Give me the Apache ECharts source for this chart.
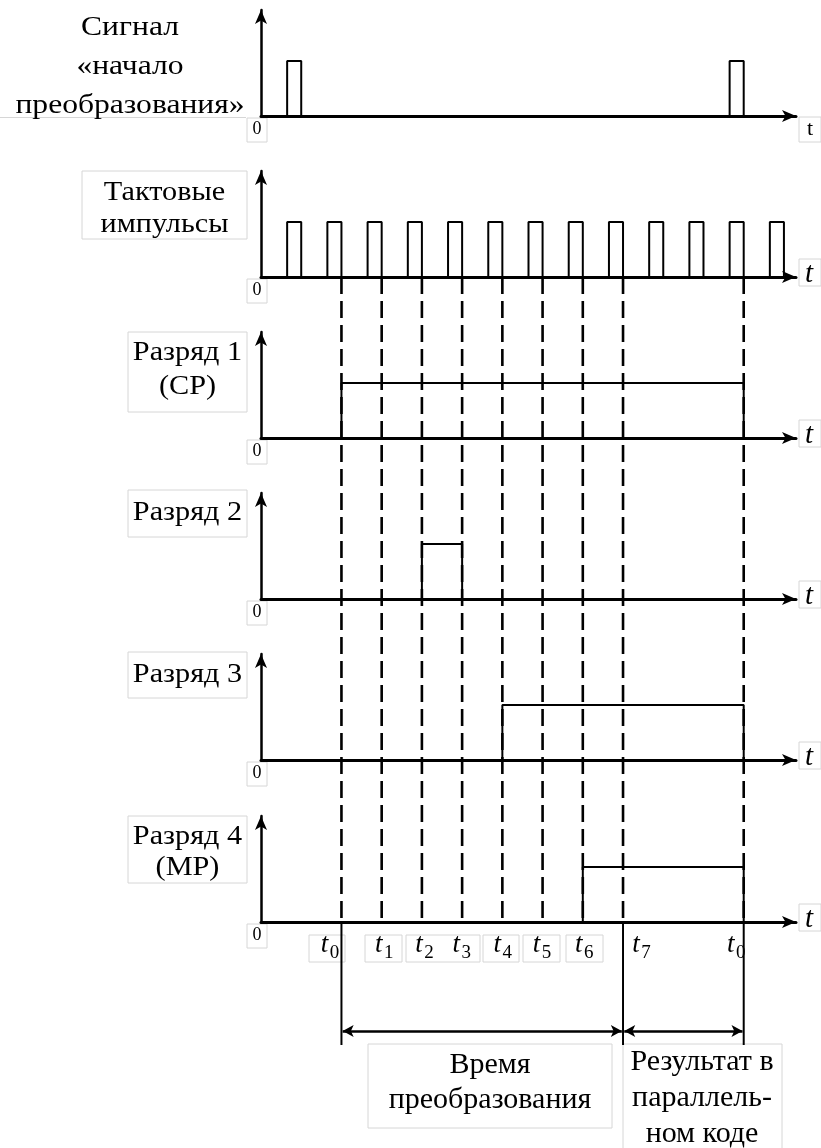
<!DOCTYPE html>
<html><head><meta charset="utf-8">
<script src="https://cdn.jsdelivr.net/npm/echarts@6/dist/echarts.min.js"></script>
<style>html,body{margin:0;padding:0;background:#fff}#c{width:821px;height:1148px}</style>
</head><body><div id="c"></div>
<script>
// ---- data ----
const panelLabels = ['Сигнал\n«начало\nпреобразования»', 'Тактовые\nимпульсы', 'Разряд 1\n(CP)', 'Разряд 2', 'Разряд 3', 'Разряд 4\n(MP)'];
const startSignal = [[0.65, 1.0], [11.65, 12.0]];
const clockPulses = [[0.65, 1], [1.65, 2], [2.65, 3], [3.65, 4], [4.65, 5], [5.65, 6], [6.65, 7], [7.65, 8], [8.65, 9], [9.65, 10], [10.65, 11], [11.65, 12], [12.65, 13]];
const bit1 = [[2, 12]];
const bit2 = [[4, 5]];
const bit3 = [[6, 12]];
const bit4 = [[8, 12]];
const markTimes = [2, 3, 4, 5, 6, 7, 8, 9, 12];
const markNames = ['0', '1', '2', '3', '4', '5', '6', '7', '0'];
const boundaryTimes = [2, 9, 12];
const spans = [[2, 9], [9, 12]];
const spanLabels = ['Время\nпреобразования', 'Результат в\nпараллель-\nном коде'];
const tMax = 13.3, yMax = 1.93;

// ---- layout ----
const FAM = "'Liberation Serif', 'Times New Roman', serif";
const axisY = [116, 277, 438, 599, 760, 922];
const panelH = 106, gLeft = 261, gRight = 25;
const waves = [startSignal, clockPulses, bit1, bit2, bit3, bit4];

const grids = [], xAxes = [], yAxes = [], series = [];
axisY.forEach((ay, i) => {
  grids.push({left: gLeft, right: gRight, top: ay - panelH, height: panelH});
  xAxes.push({gridIndex: i, type: 'value', min: 0, max: tMax,
    axisLine: {show: true, symbol: ['none', 'arrow'], symbolSize: [9, 14], lineStyle: {color: '#000', width: 3}},
    axisTick: {show: false}, axisLabel: {show: false}, splitLine: {show: false}});
  yAxes.push({gridIndex: i, type: 'value', min: 0, max: yMax,
    axisLine: {show: true, onZero: false, symbol: ['none', 'arrow'], symbolSize: [9, 14], lineStyle: {color: '#000', width: 2.5}},
    axisTick: {show: false}, axisLabel: {show: false}, splitLine: {show: false}});
  waves[i].forEach(([a, b]) => {
    series.push({type: 'line', xAxisIndex: i, yAxisIndex: i, data: [[a, 0], [a, 1], [b, 1], [b, 0]],
      symbol: 'none', clip: false, silent: true, lineStyle: {color: '#000', width: 2}});
  });
});
// dashed overlay grid (6)
grids.push({left: gLeft, right: gRight, top: axisY[1], height: axisY[5] - axisY[1]});
xAxes.push({gridIndex: 6, type: 'value', min: 0, max: tMax, show: false});
yAxes.push({gridIndex: 6, type: 'value', min: 0, max: 1, show: false});
markTimes.forEach(t => {
  series.push({type: 'line', xAxisIndex: 6, yAxisIndex: 6, data: [[t, 1], [t, 0]], symbol: 'none', clip: false, silent: true,
    lineStyle: {color: '#000', width: 2.6, type: [17, 7]}});
});
// bottom solid lines grid (7)
grids.push({left: gLeft, right: gRight, top: axisY[5], height: 123});
xAxes.push({gridIndex: 7, type: 'value', min: 0, max: tMax, show: false});
yAxes.push({gridIndex: 7, type: 'value', min: 0, max: 1, show: false});
boundaryTimes.forEach(t => {
  series.push({type: 'line', xAxisIndex: 7, yAxisIndex: 7, data: [[t, 1], [t, 0]], symbol: 'none', clip: false, silent: true,
    lineStyle: {color: '#000', width: 2}});
});
// arrows grid (8)
grids.push({left: gLeft, right: gRight, top: 1026, height: 10});
xAxes.push({gridIndex: 8, type: 'value', min: 0, max: tMax, show: false});
yAxes.push({gridIndex: 8, type: 'value', min: 0, max: 1, show: false});
series.push({type: 'line', xAxisIndex: 8, yAxisIndex: 8, data: [], symbol: 'none', silent: true,
  markLine: {silent: true, symbol: ['arrow', 'arrow'], symbolSize: [9, 11], label: {show: false},
    lineStyle: {color: '#000', width: 2.5, type: 'solid'}, emphasis: {disabled: true},
    data: spans.map(([a, b]) => [{coord: [a + 0.03, 0.5]}, {coord: [b - 0.03, 0.5]}])}});

const chart = echarts.init(document.getElementById('c'), null, {renderer: 'canvas'});
chart.setOption({animation: false, backgroundColor: '#fff', grid: grids, xAxis: xAxes, yAxis: yAxes, series: series});

// ---- text & boxes ----
const G = [];
const box = (x, y, w, h) => G.push({type: 'rect', shape: {x, y, width: w, height: h}, style: {fill: 'none', stroke: '#d6d6d6', lineWidth: 1}, silent: true});
const txt = (text, x, y, size, extra, sx) => G.push({type: 'text', x, y, scaleX: sx || 1, silent: true,
  style: Object.assign({text, fontSize: size, fontFamily: FAM, fill: '#000', align: 'center', verticalAlign: 'middle'}, extra || {})});

const SX = 1.12;
// panel labels
G.push({type: 'line', shape: {x1: 0, y1: 117.5, x2: 246, y2: 117.5}, style: {stroke: '#d6d6d6', lineWidth: 1}, silent: true});
txt(panelLabels[0], 130, 67, 27, {lineHeight: 39}, 1.17);
box(82, 171, 165, 68); txt(panelLabels[1], 164.5, 209, 27, {lineHeight: 32}, SX);
box(128, 332, 119, 80); txt(panelLabels[2], 187.5, 370, 27, {lineHeight: 34}, SX);
box(128, 490, 119, 47); txt(panelLabels[3], 187.5, 513, 27, null, SX);
box(128, 652, 119, 46); txt(panelLabels[4], 187.5, 675, 27, null, SX);
box(128, 816, 119, 67); txt(panelLabels[5], 187.5, 852, 27, {lineHeight: 31}, SX);

// zeros and t labels
axisY.forEach((ay, i) => {
  box(247, ay + 2, 20, 24); txt('0', 257, ay + 13, 18);
  if (i === 0) { box(799, ay + 1, 22, 25); txt('t', 810, ay + 13, 22); }
  else { box(799, ay - 18, 22, 27); txt('t', 809, ay - 3, 29, {fontStyle: 'italic'}); }
});

// bottom time labels
const labelOffsets = [-13, 1, 1, -2, -1, -2, 0, 17, -9];
const labelBoxes = [[309, 36], [365, 37], [406, 74], null, [483, 36], [523, 37], [566, 37], null, null];
markTimes.forEach((t, k) => {
  const px = chart.convertToPixel({gridIndex: 5}, [t, 0])[0] + labelOffsets[k];
  if (labelBoxes[k]) box(labelBoxes[k][0], 935, labelBoxes[k][1], 27);
  txt('t', px - 4, 945, 27, {fontStyle: 'italic'});
  txt(markNames[k], px + 6, 953, 19);
});

// span labels
box(368, 1044, 244, 84); txt(spanLabels[0], 490, 1083, 30, {lineHeight: 35});
box(623, 1044, 159, 110); txt(spanLabels[1], 702, 1098, 30, {lineHeight: 36});

chart.setOption({graphic: G});
</script></body></html>
